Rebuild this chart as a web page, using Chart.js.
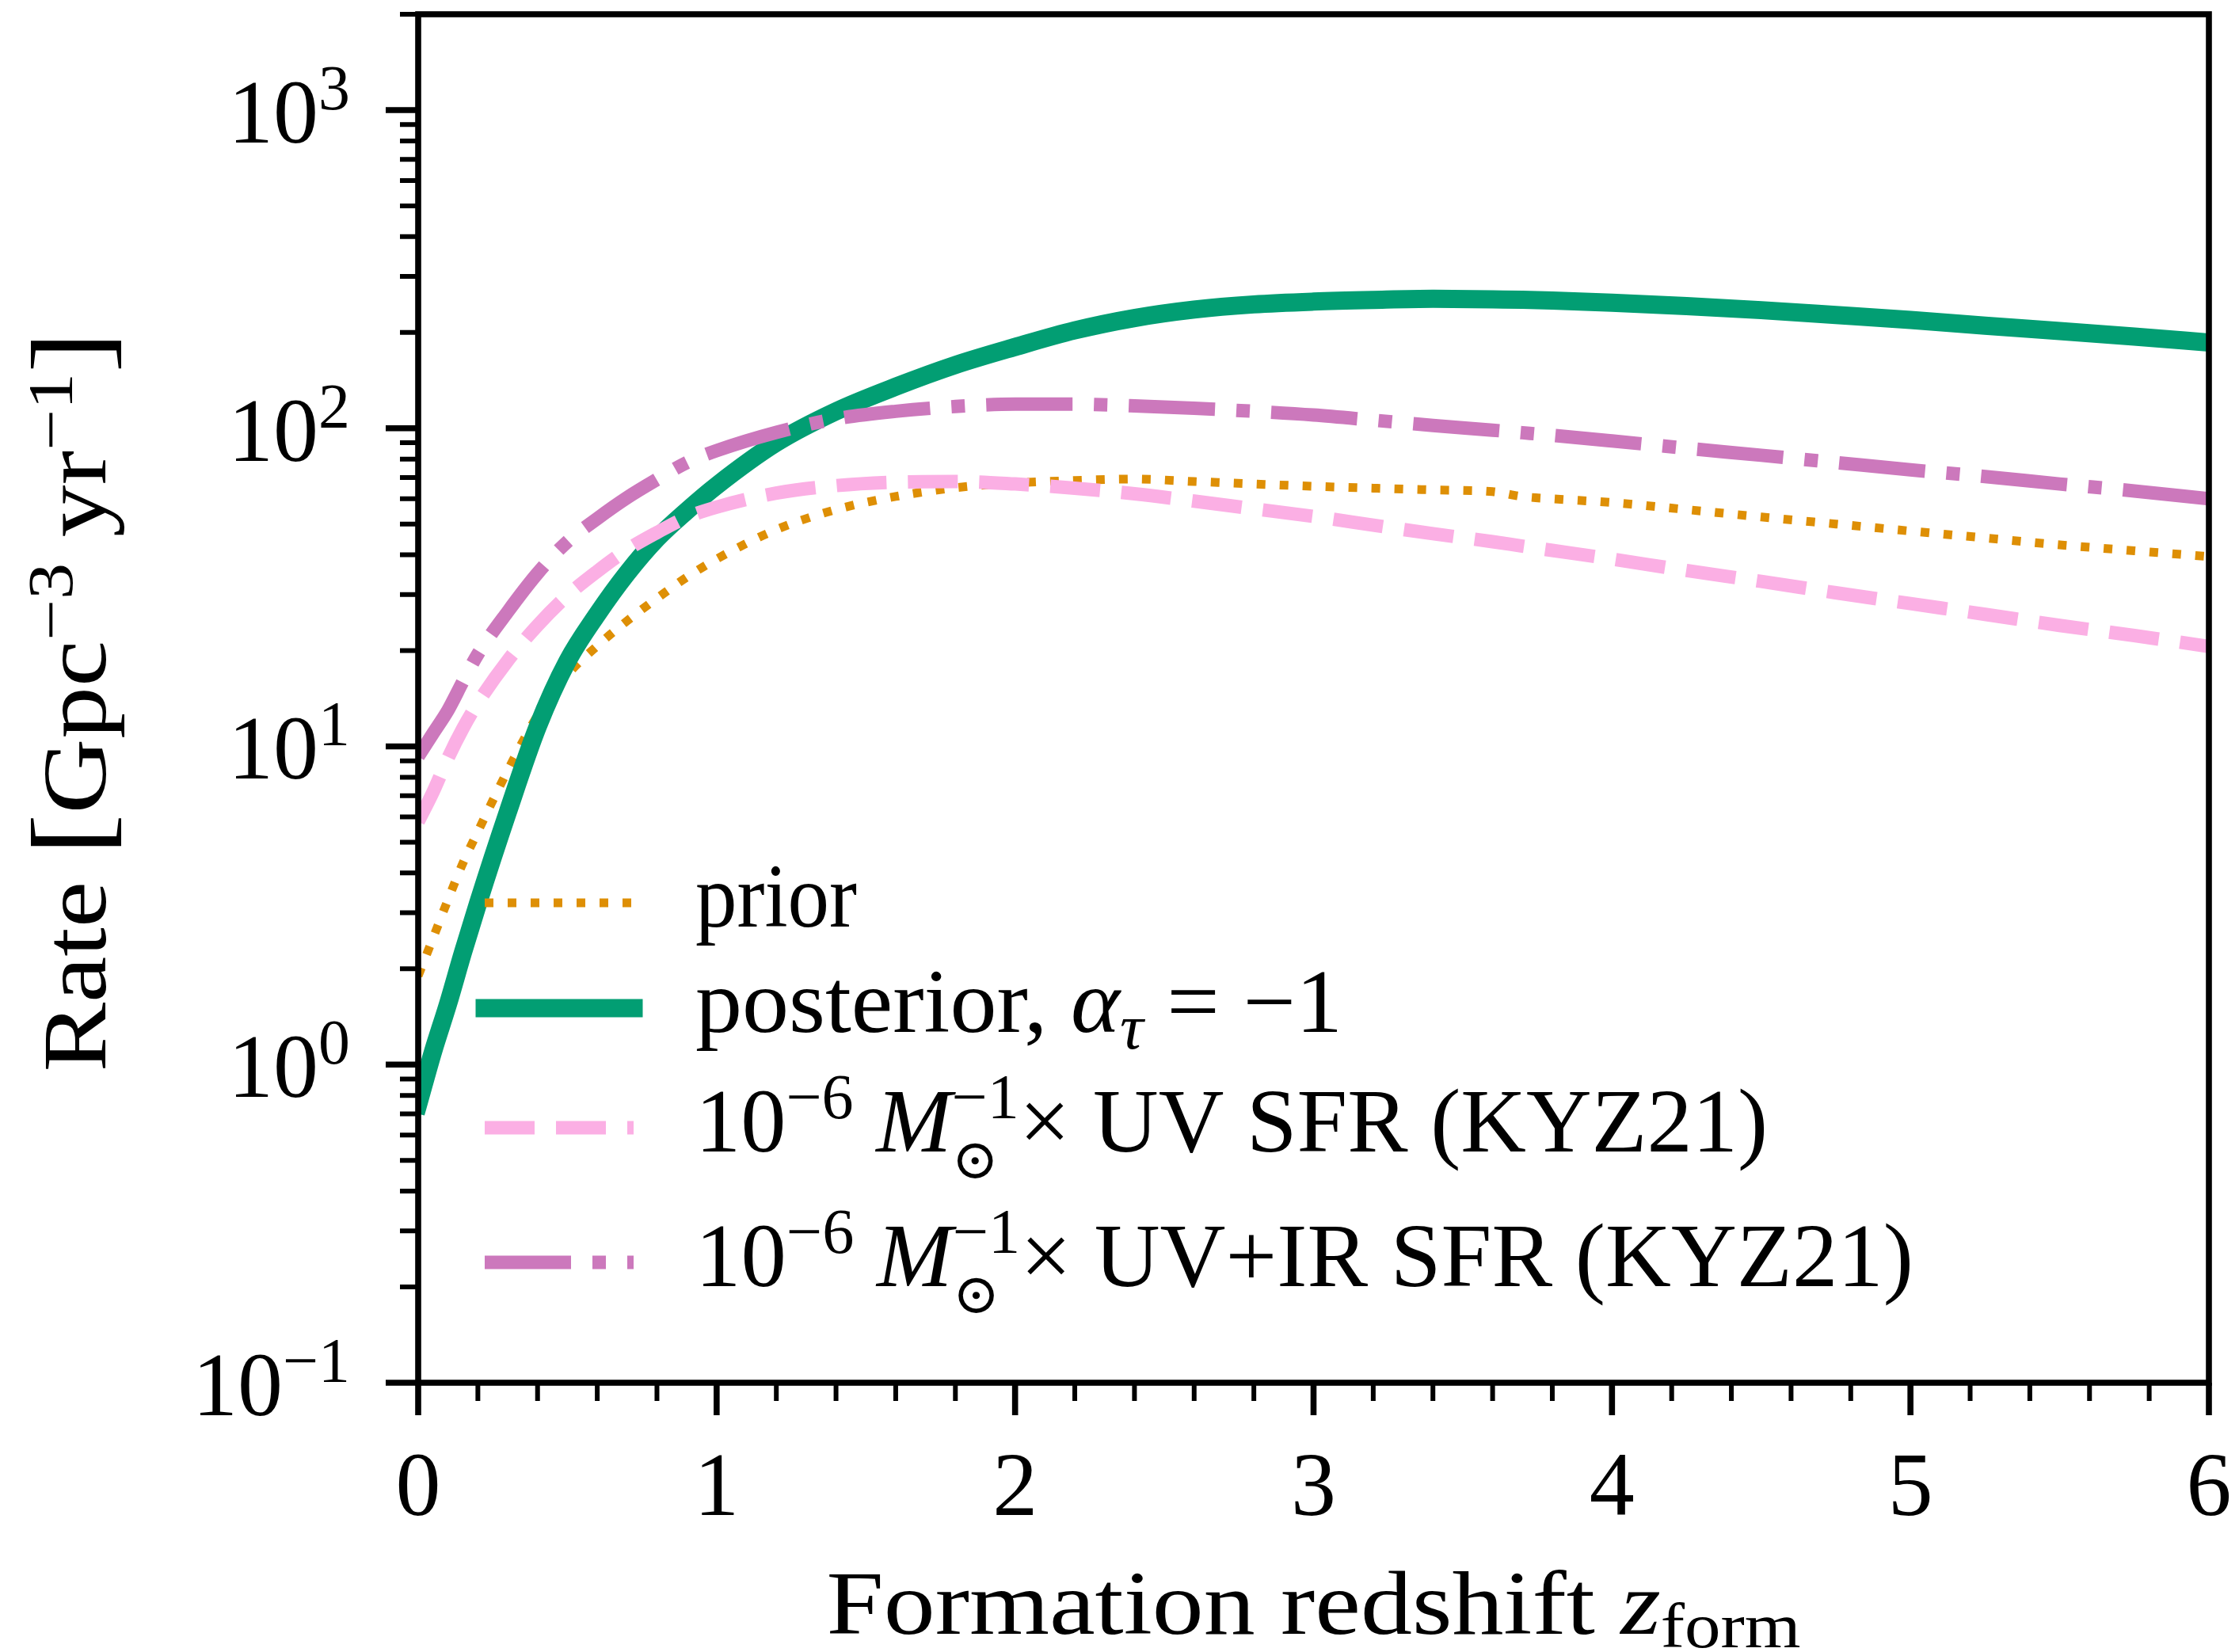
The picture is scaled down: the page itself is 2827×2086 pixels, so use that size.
<!DOCTYPE html>
<html>
<head>
<meta charset="utf-8">
<title>Rate vs formation redshift</title>
<script src="https://cdn.jsdelivr.net/npm/chart.js@4.4.3/dist/chart.umd.min.js"></script>
<style>
  html, body { margin: 0; padding: 0; background: #fff; }
  #wrap { width: 2827px; height: 2086px; }
</style>
</head>
<body>
<div id="wrap"><canvas id="rate-chart" width="2827" height="2086"></canvas></div>
<script>
var zForm = [0, 0.05, 0.1, 0.15, 0.2, 0.3, 0.4, 0.5, 0.6, 0.7, 0.8, 0.9, 1.0,
  1.2, 1.4, 1.6, 1.8, 2.0, 2.2, 2.4, 2.6, 2.8, 3.0, 3.2, 3.4, 3.6, 3.7, 3.8, 4.0,
  4.25, 4.5, 4.75, 5.0, 5.25, 5.5, 5.75, 6.0];

var ratePrior = [1.9, 2.5, 3.3, 4.3, 5.4, 8.4, 12.5, 16.8, 20.7, 24.8, 29.2, 34.0, 38.8,
  48.0, 55.5, 61.0, 65.0, 67.3, 68.5, 69.2, 68.0, 66.8, 65.7, 64.8, 64.0, 63.2, 61.0, 60.0, 58.4,
  55.5, 52.6, 50.0, 47.5, 45.2, 43.0, 41.2, 39.5];

var ratePosterior = [0.75, 1.1, 1.55, 2.25, 3.2, 6.2, 11.5, 18.5, 26, 35, 45, 55, 66,
  90, 113, 135, 158, 180, 203, 222, 236, 245, 250, 253, 255, 254, 253.5, 252, 248,
  242, 235, 227, 219, 210, 202, 194, 186];

var rateUV = [5.8, 7.2, 9.2, 11.4, 13.7, 18.6, 24, 29.8, 35.5, 41.5, 47, 52.5, 56.5,
  62.5, 66, 67.7, 68, 66.8, 64.8, 62.2, 59, 55.8, 52.8, 49.6, 46.6, 44, 42.6, 41.3, 38.8,
  35.7, 33, 30.4, 28.1, 26, 24, 22.3, 20.6];

var rateUVIR = [9.3, 11, 13, 16, 19.5, 26.5, 35, 44, 52, 60.5, 69, 78, 85,
  97, 107, 113, 117, 119, 119, 117.5, 115.5, 113, 110, 106, 102, 98.6, 96.8, 95, 91.2,
  86.5, 82.2, 78, 74, 70.5, 66.8, 63.5, 60];

var seriesLabels = ['prior', 'posterior, \u03b1_\u03c4 = \u22121',
  '10^\u22126 M_\u2299^\u22121 \u00d7 UV SFR (KYZ21)',
  '10^\u22126 M_\u2299^\u22121 \u00d7 UV+IR SFR (KYZ21)'];

var xMajorTicks = [0, 1, 2, 3, 4, 5, 6];
var yDecadeExps = [-1, 0, 1, 2, 3];
var X_MIN = 0, X_MAX = 6, Y_MIN = 0.1, Y_MAX = 2000;

(function () {
  'use strict';

  var SERIF = '"Liberation Serif", "DejaVu Serif", serif';
  var EM = 114;

  // matplotlib-ish line styles (seaborn colorblind palette)
  var STYLES = [
    { color: '#DE8F05', width: 11, dash: [11, 18], cap: 'butt', order: 4 },
    { color: '#029E73', width: 23, dash: [], cap: 'square', order: 3 },
    { color: '#FBAFE4', width: 17, dash: [63, 27], cap: 'butt', order: 2 },
    { color: '#CC78BC', width: 17, dash: [109, 27, 17, 27], cap: 'butt', order: 1 }
  ];
  var SERIES_DATA = [ratePrior, ratePosterior, rateUV, rateUVIR];

  function N(t) { return { t: t }; }
  function I(t) { return { t: t, i: true }; }
  function SUP(t, it) { return { t: t, i: !!it, s: 0.7, dy: -0.37 }; }
  function SUB(t, it) { return { t: t, i: !!it, s: 0.7, dy: 0.18 }; }
  function BIG(t) { return { t: t, s: 1.2, dy: 0.02 }; }

  function fontStr(px, italic) {
    return (italic ? 'italic ' : '') + px.toFixed(1) + 'px ' + SERIF;
  }

  function layoutRich(ctx, parts, em) {
    var x = 0;
    var items = [];
    function place(p) {
      ctx.font = fontStr(em * (p.s || 1), p.i);
      items.push({ t: p.t, x: x, dy: (p.dy || 0) * em, font: ctx.font });
      return ctx.measureText(p.t).width;
    }
    parts.forEach(function (p) {
      if (p.stack) {
        var w = 0;
        p.stack.forEach(function (q) { w = Math.max(w, place(q)); });
        x += w;
      } else {
        x += place(p);
      }
    });
    return { items: items, width: x };
  }

  function drawRich(ctx, parts, x, y, align, fitW) {
    var lay = layoutRich(ctx, parts, EM);
    var sx = fitW ? fitW / lay.width : 1;
    var w = lay.width * sx;
    var x0 = align === 'center' ? x - w / 2 : (align === 'right' ? x - w : x);
    ctx.save();
    ctx.translate(x0, y);
    ctx.scale(sx, 1);
    ctx.textAlign = 'left';
    ctx.textBaseline = 'alphabetic';
    ctx.fillStyle = '#000';
    lay.items.forEach(function (it) {
      ctx.font = it.font;
      ctx.fillText(it.t, it.x, it.dy);
    });
    ctx.restore();
  }

  function solarParts(band) {
    return [N('10'), SUP('\u22126'), N(' '), I('M'),
      { stack: [SUP('\u22121'), { t: '\u2299', s: 0.62, dy: 0.3 }] },
      N('\u00d7 ' + band + ' SFR (KYZ21)')];
  }

  var LEGEND_TEXT = [
    [N('prior')],
    [N('posterior, '), I('\u03b1'), SUB('\u03c4', true), N(' = \u22121')],
    solarParts('UV'),
    solarParts('UV+IR')
  ];
  var LEGEND_FIT = [204, 817, 1354, 1538];
  var LEGEND_ROW_Y = [1140, 1273, 1424, 1594];
  var LEGEND_X0 = 612, LEGEND_X1 = 800, LEGEND_TEXT_X = 878;

  var axesDecor = {
    id: 'axesDecor',
    afterDraw: function (chart) {
      var ctx = chart.ctx;
      var ca = chart.chartArea;
      var xs = chart.scales.x;
      var ys = chart.scales.y;
      var i, k, e, m, p;

      ctx.save();
      ctx.strokeStyle = '#000';
      ctx.lineCap = 'butt';

      // minor ticks
      ctx.lineWidth = 6;
      ctx.beginPath();
      for (k = 1; k < 30; k++) {
        if (k % 5 === 0) continue;
        p = xs.getPixelForValue(k * 0.2);
        ctx.moveTo(p, ca.bottom);
        ctx.lineTo(p, ca.bottom + 23);
      }
      for (e = -1; e <= 3; e++) {
        for (m = 2; m <= 9; m++) {
          var v = m * Math.pow(10, e);
          if (v > Y_MAX * 1.0001) continue;
          p = ys.getPixelForValue(v);
          ctx.moveTo(ca.left, p);
          ctx.lineTo(ca.left - 23, p);
        }
      }
      ctx.stroke();

      // major ticks
      ctx.lineWidth = 7.6;
      ctx.beginPath();
      xMajorTicks.forEach(function (t) {
        var px = xs.getPixelForValue(t);
        ctx.moveTo(px, ca.bottom);
        ctx.lineTo(px, ca.bottom + 41);
      });
      yDecadeExps.forEach(function (ex) {
        var py = ys.getPixelForValue(Math.pow(10, ex));
        ctx.moveTo(ca.left, py);
        ctx.lineTo(ca.left - 41, py);
      });
      ctx.stroke();

      // frame
      ctx.lineJoin = 'miter';
      ctx.lineWidth = 7.6;
      ctx.strokeRect(ca.left, ca.top, ca.right - ca.left, ca.bottom - ca.top);

      // tick labels
      xMajorTicks.forEach(function (t) {
        drawRich(ctx, [N(String(t))], xs.getPixelForValue(t), ca.bottom + 167, 'center');
      });
      yDecadeExps.forEach(function (ex) {
        var lbl = ex < 0 ? '\u2212' + (-ex) : String(ex);
        drawRich(ctx, [N('10'), SUP(lbl)], ca.left - 86, ys.getPixelForValue(Math.pow(10, ex)) + 41, 'right');
      });

      // axis titles
      drawRich(ctx, [N('Formation redshift '), I('z'), { t: 'form', s: 0.7, dy: 0.15 }],
        (ca.left + ca.right) / 2, 2063, 'center', 1230);

      ctx.save();
      ctx.translate(133, 886);
      ctx.rotate(-Math.PI / 2);
      drawRich(ctx, [N('Rate '), BIG('['), N('Gpc'), SUP('\u22123'), N(' yr'), SUP('\u22121'), BIG(']')],
        0, 0, 'center', 935);
      ctx.restore();

      // legend
      for (i = 0; i < STYLES.length; i++) {
        var st = STYLES[i];
        var ly = LEGEND_ROW_Y[i];
        ctx.save();
        ctx.strokeStyle = st.color;
        ctx.lineWidth = st.width;
        ctx.lineCap = st.cap;
        ctx.setLineDash(st.dash);
        ctx.lineDashOffset = 0;
        ctx.beginPath();
        ctx.moveTo(LEGEND_X0, ly);
        ctx.lineTo(LEGEND_X1, ly);
        ctx.stroke();
        ctx.restore();
        drawRich(ctx, LEGEND_TEXT[i], LEGEND_TEXT_X, ly + 30, 'left', LEGEND_FIT[i]);
      }
      ctx.restore();
    }
  };

  var datasets = STYLES.map(function (st, j) {
    return {
      label: seriesLabels[j],
      data: zForm.map(function (z, i) { return { x: z, y: SERIES_DATA[j][i] }; }),
      borderColor: st.color,
      backgroundColor: st.color,
      borderWidth: st.width,
      borderDash: st.dash,
      borderCapStyle: st.cap,
      borderJoinStyle: 'round',
      cubicInterpolationMode: 'monotone',
      pointRadius: 0,
      fill: false,
      clip: 0,
      order: st.order
    };
  });

  new Chart(document.getElementById('rate-chart'), {
    type: 'line',
    data: { datasets: datasets },
    options: {
      responsive: false,
      devicePixelRatio: 1,
      animation: false,
      events: [],
      layout: { padding: { left: 528, right: 38, top: 18, bottom: 340 } },
      plugins: {
        legend: { display: false },
        tooltip: { enabled: false }
      },
      scales: {
        x: { type: 'linear', min: X_MIN, max: X_MAX, display: false },
        y: { type: 'logarithmic', min: Y_MIN, max: Y_MAX, display: false }
      }
    },
    plugins: [axesDecor]
  });
})();
</script>
</body>
</html>
